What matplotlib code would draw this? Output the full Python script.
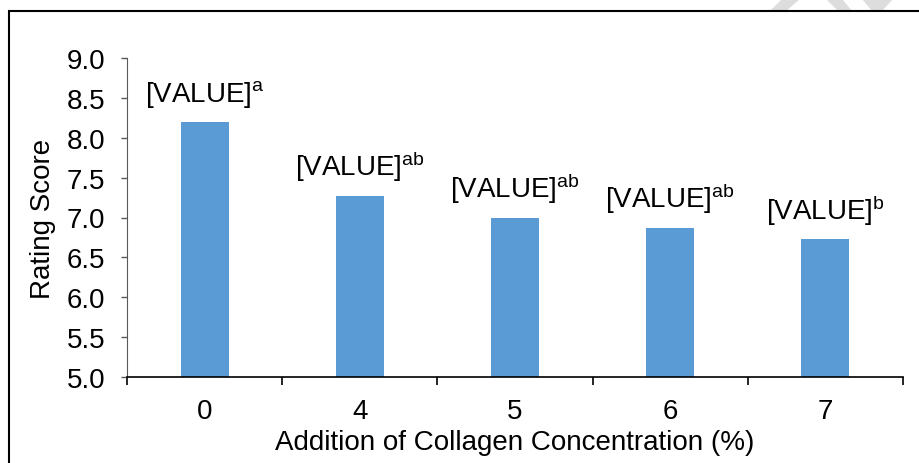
import matplotlib
matplotlib.use("Agg")
import matplotlib.pyplot as plt
from matplotlib.patches import Rectangle, Polygon

plt.rcParams["font.family"] = ["Liberation Sans", "DejaVu Sans"]
plt.rcParams["mathtext.fontset"] = "custom"
plt.rcParams["mathtext.rm"] = "Liberation Sans"

categories = ["0", "4", "5", "6", "7"]
scores = [8.20, 7.27, 7.00, 6.87, 6.73]
letters = ["a", "ab", "ab", "ab", "b"]

W, H = 920, 464
FS = 20
fig = plt.figure(figsize=(W / 100, H / 100), dpi=100)
ax = fig.add_axes([127 / W, 1 - 378 / H, (903 - 127) / W, (378 - 59) / H])

x = list(range(len(categories)))
ax.bar(x, scores, width=0.31, bottom=0, color="#5B9BD5", zorder=2)

for xi, val, let in zip(x, scores, letters):
    ax.annotate(r"$\mathregular{[VALUE]^{%s}}$" % let, (xi, val),
                xytext=(0, 9), textcoords="offset points",
                ha="center", va="bottom", fontsize=FS)

ax.set_ylim(5.0, 9.0)
ax.set_xlim(-0.5, len(categories) - 0.5)
ax.set_yticks([5.0 + 0.5 * i for i in range(9)])
ax.set_yticklabels([f"{5.0 + 0.5 * i:.1f}" for i in range(9)], fontsize=FS)
ax.set_xticks(x)
ax.set_xticklabels(categories, fontsize=FS)
ax.set_xticks([i - 0.5 for i in range(len(categories) + 1)], minor=True)
ax.tick_params(axis="x", which="major", length=0, pad=15)
ax.tick_params(axis="x", which="minor", direction="out", length=6, width=1.2, color="black")
ax.tick_params(axis="y", direction="out", length=4.5, width=1, color="#595959", pad=11)

for s in ["top", "right"]:
    ax.spines[s].set_visible(False)
ax.spines["left"].set_color("#595959")
ax.spines["bottom"].set_color("black")
ax.spines["bottom"].set_linewidth(1.2)

ax.set_ylabel("Rating Score", fontsize=FS, labelpad=8)
ax.set_xlabel("Addition of Collagen Concentration (%)", fontsize=FS, labelpad=4)

# frame around the figure (cut off at the right and bottom)
fig.patches.append(Rectangle((9 / W, -0.1), 1.2, 1 - 12 / H + 0.1,
                             transform=fig.transFigure, fill=False,
                             edgecolor="black", linewidth=1.5))

# faint watermark strokes at the top edge
for pts in [[(770, 12), (786, 12), (800, 0), (782, 0)],
            [(838, 12), (852, 12), (842, 0), (826, 0)],
            [(862, 0), (893, 0), (882, 12), (872, 12)]]:
    fig.patches.append(Polygon([(px / W, 1 - py / H) for px, py in pts],
                               closed=True, transform=fig.transFigure,
                               facecolor="#DDDDDD", edgecolor="none", zorder=0))

fig.savefig("out.png", dpi=100)
